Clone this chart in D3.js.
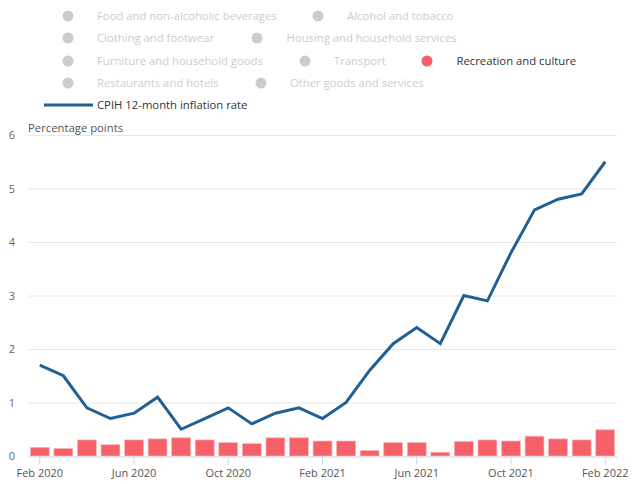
<!DOCTYPE html>
<html><head><meta charset="utf-8">
<script src="https://cdn.jsdelivr.net/npm/d3@7"></script>
<style>body{margin:0;background:#fff;font-family:"Open Sans",sans-serif;}</style>
</head><body><svg id="c" width="640" height="484"></svg>
<script>
const months = ["Feb 2020","Mar 2020","Apr 2020","May 2020","Jun 2020","Jul 2020","Aug 2020","Sep 2020","Oct 2020","Nov 2020","Dec 2020","Jan 2021","Feb 2021","Mar 2021","Apr 2021","May 2021","Jun 2021","Jul 2021","Aug 2021","Sep 2021","Oct 2021","Nov 2021","Dec 2021","Jan 2022","Feb 2022"];
const recreation = [0.16,0.14,0.30,0.21,0.30,0.32,0.34,0.30,0.25,0.23,0.34,0.34,0.28,0.28,0.10,0.25,0.25,0.07,0.27,0.30,0.28,0.37,0.32,0.30,0.49];
const cpih = [1.7,1.5,0.9,0.7,0.8,1.1,0.5,0.7,0.9,0.6,0.8,0.9,0.7,1.0,1.6,2.1,2.4,2.1,3.0,2.9,3.8,4.6,4.8,4.9,5.5];
const xTickLabels = ["Feb 2020","Jun 2020","Oct 2020","Feb 2021","Jun 2021","Oct 2021","Feb 2022"];
const yTicks = [0,1,2,3,4,5,6];
const legendItems = [
  {name:"Food and non-alcoholic beverages", active:false},
  {name:"Alcohol and tobacco", active:false},
  {name:"Clothing and footwear", active:false},
  {name:"Housing and household services", active:false},
  {name:"Furniture and household goods", active:false},
  {name:"Transport", active:false},
  {name:"Recreation and culture", active:true},
  {name:"Restaurants and hotels", active:false},
  {name:"Other goods and services", active:false}
];
const legendRows = [[0,1],[2,3],[4,5,6],[7,8]];
const lineName = "CPIH 12-month inflation rate";

const svg = d3.select("#c");
const red = "#f66068", blue = "#206095";
const x = d3.scaleBand().domain(months).range([28, 617]).paddingInner(0.2).paddingOuter(0.1);
const y = d3.scaleLinear().domain([0,6]).range([456,135]);

// gridlines
svg.append("g").selectAll("line").data(yTicks.filter(d=>d>0)).join("line")
  .attr("x1",28).attr("x2",617).attr("y1",d=>y(d)+0.5).attr("y2",d=>y(d)+0.5)
  .attr("stroke","#e6e6e6");

// y labels
svg.append("g").selectAll("text").data(yTicks).join("text")
  .attr("x",12).attr("y",d=>y(d)+4).attr("text-anchor","middle")
  .attr("font-size",11).attr("fill","#666").text(d=>d);

svg.append("text").attr("x",28).attr("y",132).attr("font-size",11.3).attr("fill","#555").text("Percentage points");

// bars
svg.append("g").selectAll("rect").data(recreation).join("rect")
  .attr("x",(d,i)=>x(months[i])).attr("width",x.bandwidth())
  .attr("y",d=>y(d)).attr("height",d=>y(0)-y(d))
  .attr("fill",red).attr("stroke","#fbb0b4").attr("stroke-width",0.7);

// x axis
const xAxis = d3.axisBottom(x).tickValues(xTickLabels).tickSize(8).tickSizeOuter(0);
const gx = svg.append("g").attr("transform","translate(0,456.5)").call(xAxis);
gx.select(".domain").attr("stroke","#ccd6eb");
gx.selectAll(".tick line").attr("stroke","#ccd6eb");
gx.selectAll(".tick text").attr("font-family","Open Sans").attr("font-size",11).attr("fill","#555").attr("dy","0.9em");

// line
const line = d3.line().x((d,i)=>x(months[i])+x.bandwidth()/2).y(d=>y(d));
svg.append("path").datum(cpih).attr("d",line).attr("fill","none")
  .attr("stroke",blue).attr("stroke-width",3).attr("stroke-linejoin","miter");

// legend
const rowY = [16,38,61,83];
const colDefs = [
  [{c:68,t:97},{c:318,t:347}],
  [{c:68,t:97},{c:257,t:286.5}],
  [{c:68,t:97},{c:305,t:334},{c:427,t:456.5}],
  [{c:68,t:97},{c:261,t:290}]
];
const lg = svg.append("g");
legendRows.forEach((row,ri)=>{
  row.forEach((idx,ci)=>{
    const it = legendItems[idx], p = colDefs[ri][ci];
    lg.append("circle").attr("cx",p.c).attr("cy",rowY[ri]).attr("r",5.5)
      .attr("fill", it.active ? red : "#cccccc");
    lg.append("text").attr("x",p.t).attr("y",rowY[ri]+4).attr("font-size",11.3)
      .attr("fill", it.active ? "#333333" : "#cccccc").text(it.name);
  });
});
lg.append("line").attr("x1",44).attr("x2",93).attr("y1",105).attr("y2",105).attr("stroke",blue).attr("stroke-width",3);
lg.append("text").attr("x",97).attr("y",109).attr("font-size",11.3).attr("fill","#333").text(lineName);
</script></body></html>
